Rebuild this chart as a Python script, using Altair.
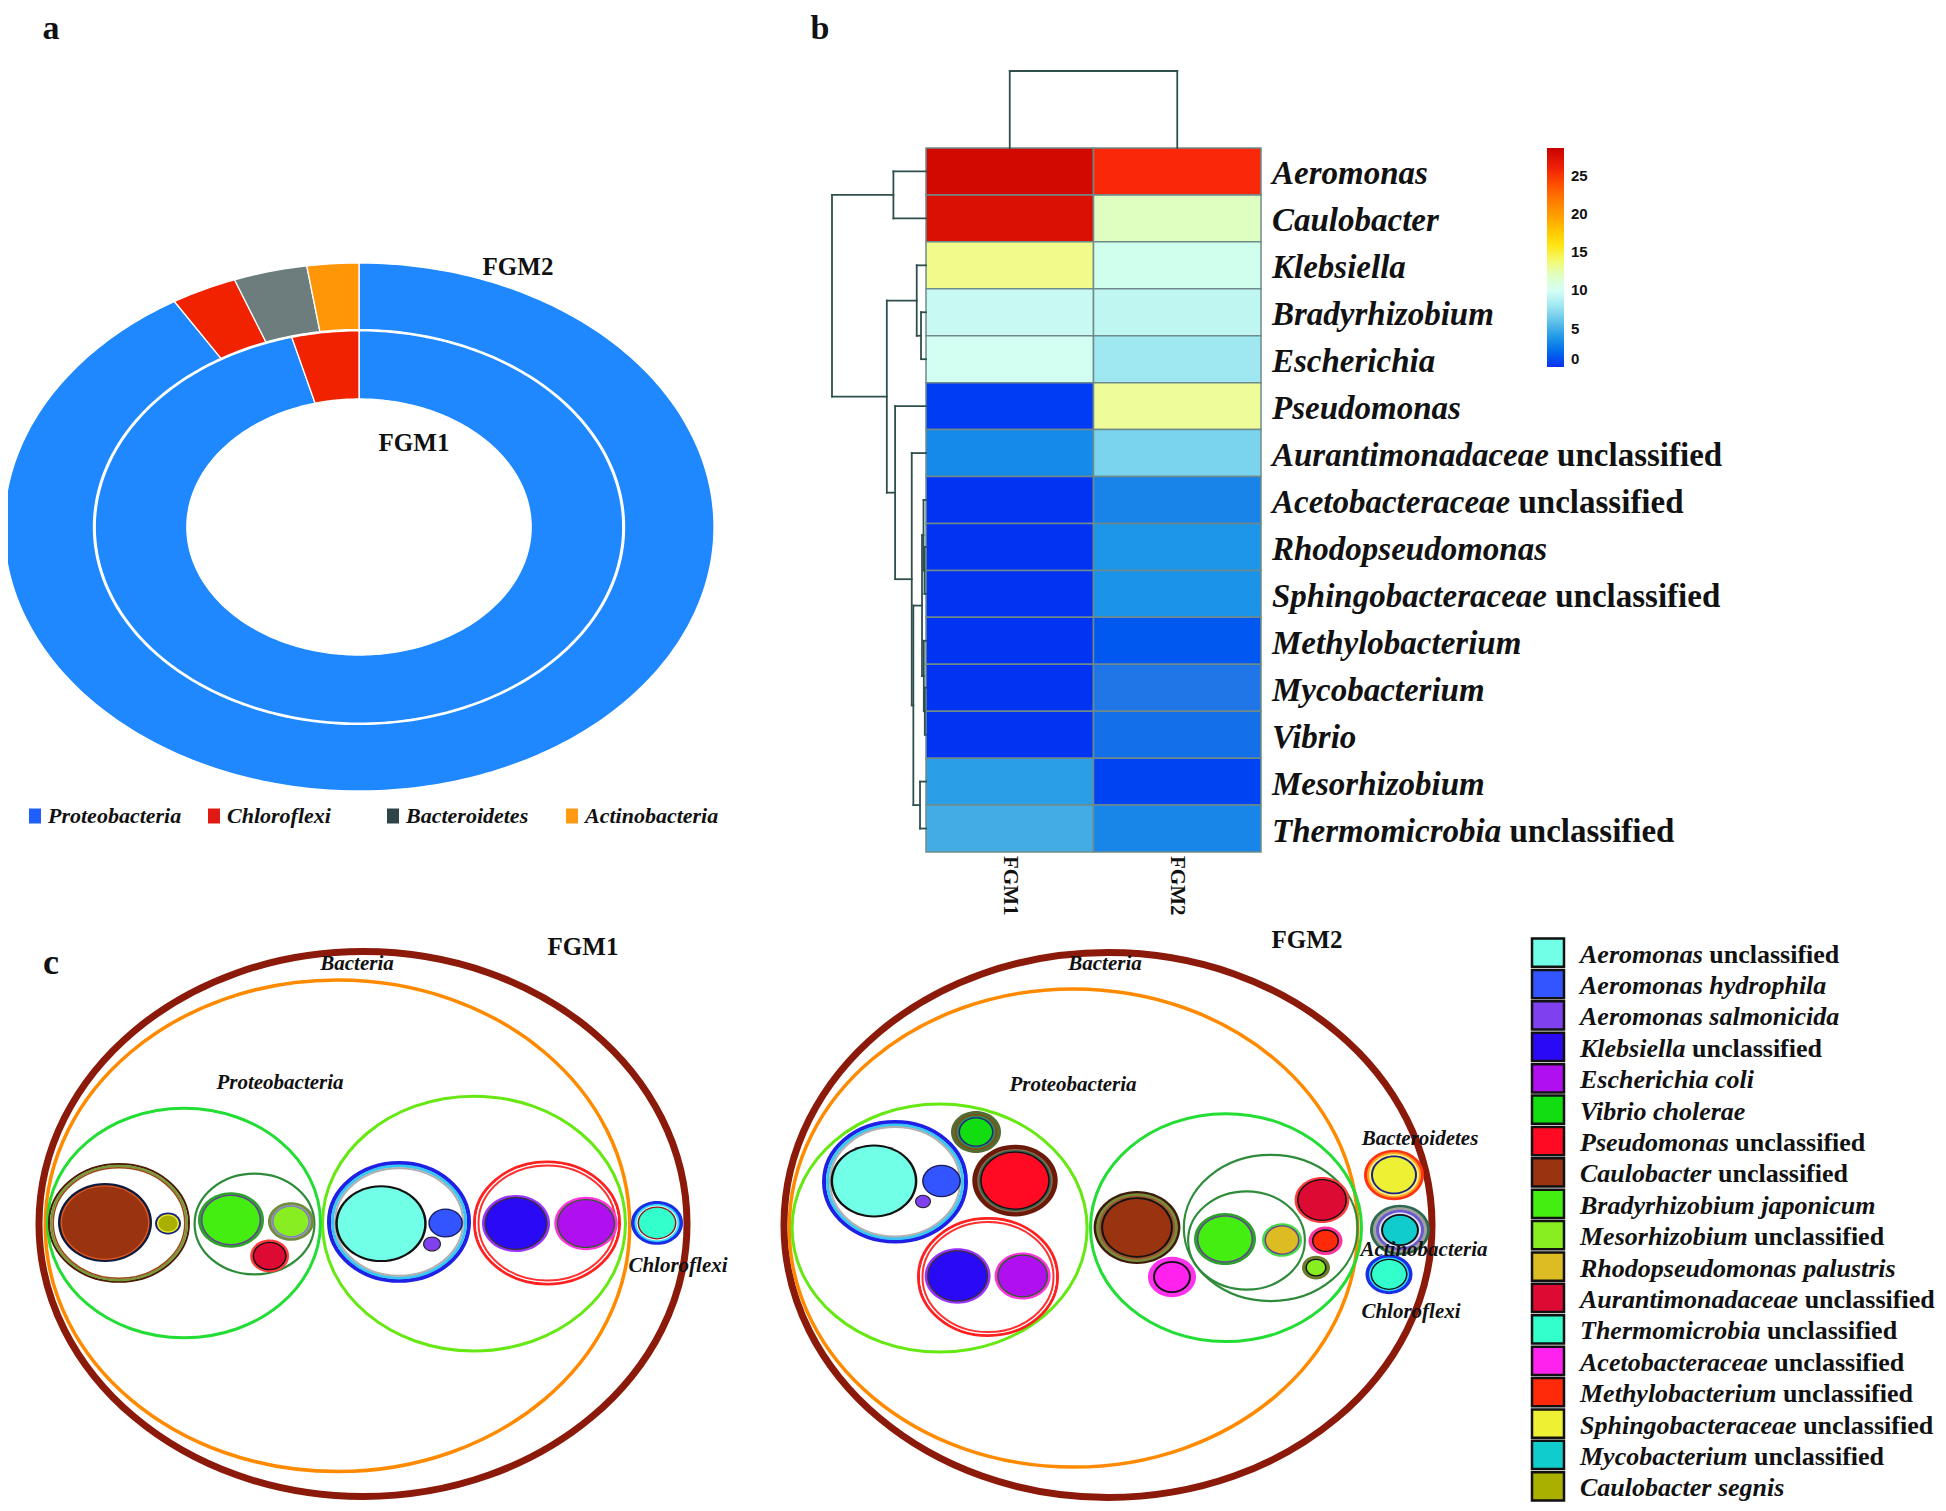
import math
import altair as alt
import pandas as pd

M = 8
SERIF = "Liberation Serif"
SANS = "Liberation Sans"
INK = "#111111"

# ====================== panel a : phylum shares (%) ======================
phyla = ["Proteobacteria", "Chloroflexi", "Bacteroidetes", "Actinobacteria"]
phylum_colors = ["#1F88FF", "#F02200", "#6D7D7D", "#FF9608"]
phylum_key_colors = ["#1F5EFF", "#E01A12", "#2F4444", "#FF9A14"]
fgm1_share = [95.9, 4.1, 0.0, 0.0]
fgm2_share = [91.3, 3.0, 3.35, 2.35]

# ====================== panel b : genus heatmap ======================
genera = ["Aeromonas", "Caulobacter", "Klebsiella", "Bradyrhizobium", "Escherichia",
          "Pseudomonas", "Aurantimonadaceae", "Acetobacteraceae", "Rhodopseudomonas",
          "Sphingobacteraceae", "Methylobacterium", "Mycobacterium", "Vibrio",
          "Mesorhizobium", "Thermomicrobia"]
genus_suffix = ["", "", "", "", "", "", "unclassified", "unclassified", "",
                "unclassified", "", "", "", "", "unclassified"]
samples = ["FGM1", "FGM2"]
fgm1_abund = [28.0, 27.5, 13.3, 9.5, 10.3, 0.3, 3.3, 0.1, 0.1, 0.1, 0.1, 0.1, 0.1, 4.2, 4.9]
fgm2_abund = [25.3, 12.0, 10.5, 9.2, 8.0, 13.0, 6.8, 3.0, 3.8, 3.7, 1.2, 2.4, 2.2, 0.5, 3.1]
# row clustering: (child a, child b, merge height); new clusters numbered from 15
row_merges = [(3, 4, 5.0), (2, 15, 9.3), (0, 1, 32.7), (8, 9, 1.5), (7, 18, 2.5),
              (11, 12, 1.2), (10, 20, 2.2), (19, 21, 4.0), (13, 14, 6.0), (22, 23, 12.7),
              (6, 24, 14.3), (5, 25, 31.0), (16, 26, 39.3), (17, 27, 94.3)]
col_merges = [(0, 1, 1.0)]
scale_stops = [0, 2.5, 5, 7.5, 10, 12.5, 15, 17.5, 20, 25, 28.6]
scale_colors = ["#0A30F2", "#2577E6", "#48AEE4", "#92E2F2", "#D6FFF6", "#EEFCB0",
                "#FFF520", "#FFCB00", "#FF9A00", "#FF2A0A", "#C80000"]
cbar_ticks = [0, 5, 10, 15, 20, 25]

# ====================== panel c : circle packing ======================
legend_taxa = ["Aeromonas unclassified", "Aeromonas hydrophila", "Aeromonas salmonicida",
               "Klebsiella unclassified", "Escherichia coli", "Vibrio cholerae",
               "Pseudomonas unclassified", "Caulobacter unclassified", "Bradyrhizobium japonicum",
               "Mesorhizobium unclassified", "Rhodopseudomonas palustris",
               "Aurantimonadaceae unclassified", "Thermomicrobia unclassified",
               "Acetobacteraceae unclassified", "Methylobacterium unclassified",
               "Sphingobacteraceae unclassified", "Mycobacterium unclassified", "Caulobacter segnis"]
legend_italic = ["Aeromonas", "Aeromonas hydrophila", "Aeromonas salmonicida", "Klebsiella",
                 "Escherichia coli", "Vibrio cholerae", "Pseudomonas", "Caulobacter",
                 "Bradyrhizobium japonicum", "Mesorhizobium", "Rhodopseudomonas palustris",
                 "Aurantimonadaceae", "Thermomicrobia", "Acetobacteraceae", "Methylobacterium",
                 "Sphingobacteraceae", "Mycobacterium", "Caulobacter segnis"]
legend_plain = ["unclassified", "", "", "unclassified", "", "", "unclassified", "unclassified",
                "", "unclassified", "", "unclassified", "unclassified", "unclassified",
                "unclassified", "unclassified", "unclassified", ""]
taxon_colors = ["#72FFE8", "#3355FF", "#7F40F0", "#2A0AF5", "#B010F0", "#11DD11",
                "#FF0A22", "#993310", "#44EE11", "#88EE22", "#DDBB22", "#DD0A33",
                "#33FFCC", "#FF22EE", "#FF2A0A", "#EEF033", "#11CCCC", "#AAB000"]

# nodes: (taxon, style, dx, dy, radius) in reference px units about the Bacteria centre
fgm1_nodes = [
    ("Bacteria", "root", 0, 0, 327.5),
    ("Proteobacteria", "phylum", -25.5, -2.1, 294),
    ("Alphaproteobacteria", "class_a", -179, 1.2, 138),
    ("Gammaproteobacteria", "class_b", 111, 0.5, 153),
    ("Caulobacter", "caulo_grp", -244, 1.2, 71),
    ("Rhizobiales", "order", -108.5, 0, 61),
    ("Aeromonas", "aero_grp", 36, 2.4, 72),
    ("Enterobacteriaceae", "entero_grp", 184, 1.2, 74),
    ("Caulobacter unclassified", "caulo_leaf1", -258, 1.7, 47),
    ("Caulobacter segnis", "segnis", -195, 0.6, 13),
    ("Bradyrhizobium japonicum", "brady", -132, 4.8, 33),
    ("Mesorhizobium unclassified", "meso1", -72, 3, 23),
    ("Aurantimonadaceae unclassified", "auran", -93.4, -38, 19.5),
    ("Aeromonas unclassified", "aero_u", 18, 0.4, 45.7),
    ("Aeromonas hydrophila", "hydro", 82.6, 1.2, 17.3),
    ("Aeromonas salmonicida", "salmo", 69, -23.8, 9),
    ("Klebsiella unclassified", "kleb", 153, 0.6, 34),
    ("Escherichia coli", "ecoli", 223, 0.6, 31.7),
    ("Thermomicrobia unclassified", "thermo1", 294, 1.2, 26),
]
fgm2_nodes = [
    ("Bacteria", "root", 0, 0, 327.5),
    ("Proteobacteria", "phylum", -34.5, -3.6, 286),
    ("Gammaproteobacteria", "class_b", -168.4, -3.6, 149),
    ("Alphaproteobacteria", "class_a", 118, -3.1, 137),
    ("Aeromonas", "aero_grp", -213, 51.4, 73),
    ("Enterobacteriaceae", "entero_grp", -120, -61.8, 71),
    ("Rhizobiales", "order", 162.7, -3.6, 88),
    ("Bradyrhizobiaceae", "order", 138.5, -18.4, 59.5),
    ("Aeromonas unclassified", "aero_u", -234, 52.3, 43.4),
    ("Aeromonas hydrophila", "hydro", -166.5, 52.3, 19.4),
    ("Aeromonas salmonicida", "salmo", -185, 28, 8),
    ("Vibrio cholerae", "vibrio", -132, 110.6, 25),
    ("Pseudomonas unclassified", "pseudo", -93, 52.8, 42.7),
    ("Klebsiella unclassified", "kleb", -150.4, -60.6, 33),
    ("Escherichia coli", "ecoli", -85.4, -60.6, 28),
    ("Caulobacter unclassified", "caulo_leaf2", 29, -3, 43.4),
    ("Acetobacteraceae unclassified", "aceto", 64, -61.8, 24),
    ("Bradyrhizobium japonicum", "brady", 117, -16.6, 31),
    ("Rhodopseudomonas palustris", "rhodo", 174, -17.8, 20),
    ("Aurantimonadaceae unclassified", "auran", 214, 29.7, 27.4),
    ("Methylobacterium unclassified", "methylo", 217.5, -18.7, 17),
    ("Mesorhizobium unclassified", "meso2", 208, -50.7, 14),
    ("Sphingobacteraceae unclassified", "sphingo", 286, 59.5, 30),
    ("Mycobacterium unclassified", "myco", 292, -6, 30),
    ("Thermomicrobia unclassified", "thermo2", 281, -58.7, 23.5),
]
fgm1_labels = [("Bacteria", -6, 309), ("Proteobacteria", -83, 167.7), ("Chloroflexi", 315, -50)]
fgm2_labels = [("Bacteria", -3, 310), ("Proteobacteria", -35, 166.5), ("Bacteroidetes", 312, 102),
               ("Actinobacteria", 316, -29.7), ("Chloroflexi", 303, -103.4)]
pack_titles = {"FGM1": (220, 329.4), "FGM2": (199, 338.9)}

# ====================== styles ======================
group_rings = {
    "root": [("#8B1A0A", 7)],
    "phylum": [("#FF8A00", 3.5)],
    "class_a": [("#22DD33", 3)],
    "class_b": [("#66E812", 3)],
    "order": [("#2E8B3A", 2.2)],
    "caulo_grp": [("#4A1A05", 2), ("#7A9A3A", 2.5), ("#9A4A1A", 1.5)],
    "aero_grp": [("#1F1FE6", 4), ("#38C8F8", 3), ("#B0B0B0", 2)],
    "entero_grp": [("#FF2020", 3), ("#FFFFFF", 1.5), ("#FF3030", 2)],
}
leaf_rings = {
    "caulo_leaf1": [("#0D1B3D", 2.5), ("#E2561E", 1.5)],
    "caulo_leaf2": [("#3A1A0A", 2.5), ("#7A8A3A", 3), ("#A0522D", 2), ("#111111", 2)],
    "segnis": [("#1A237E", 2), ("#F0F020", 1.5)],
    "brady": [("#2DA02D", 3), ("#6A3D9A", 1.5)],
    "meso1": [("#6F8F3F", 3), ("#9A9A9A", 1.5), ("#7B68EE", 1)],
    "meso2": [("#6B7B2F", 3.5), ("#111111", 1.5)],
    "auran": [("#FF3B3B", 2.5), ("#111111", 1.5)],
    "aero_u": [("#111111", 2.5)],
    "hydro": [("#1B1B5A", 1.5)],
    "salmo": [("#222222", 1.2)],
    "kleb": [("#9933FF", 2.5), ("#333333", 1.5)],
    "ecoli": [("#FF33DD", 2.5), ("#2E5E2E", 1.5)],
    "thermo1": [("#1A2EE8", 3.5), ("#33DDFF", 2), ("#FFFFFF", 1), ("#8B1A1A", 1.5)],
    "thermo2": [("#1A2EE8", 3.5), ("#33DDFF", 1.5), ("#111111", 1.5)],
    "vibrio": [("#556B2F", 4), ("#8B4513", 1.5), ("#2E8B57", 2), ("#1A237E", 1.5)],
    "pseudo": [("#6B1A0A", 5), ("#8B6B4B", 1.5), ("#2F5F4F", 1.5), ("#111111", 1.5)],
    "aceto": [("#FF33EE", 5), ("#111111", 2)],
    "rhodo": [("#44DD44", 2.5), ("#6A3D9A", 1.5)],
    "methylo": [("#FF3399", 3.5), ("#111111", 1.5)],
    "sphingo": [("#FF3311", 3), ("#FFA020", 2), ("#FFF080", 2), ("#1A237E", 2)],
    "myco": [("#2E6B4E", 3), ("#A0A0A0", 3), ("#6A5ACD", 3), ("#E0E0FF", 2), ("#111111", 2)],
}

# ====================== layout (reference pixels) ======================
DON = dict(cx=359, cy=527, rx=355, ry=264)
RING = {"FGM1": (0.485, 0.743), "FGM2": (0.748, 1.0)}
HM = dict(l=926, r=1261, t=148, b=852)
DEND_LEFT_X = 832
DEND_TOP_Y = 71
LBL_X = 1272
PACK = {"FGM1": (363, 1224), "FGM2": (1108, 1225)}
PR, PK = 328.0, 0.841
LEGC = dict(x=1532, t=937, b=1502)

BI_W = {'A': 667, 'B': 667, 'C': 667, 'D': 722, 'E': 667, 'F': 667, 'G': 722, 'H': 778,
        'I': 389, 'J': 500, 'K': 667, 'L': 611, 'M': 889, 'N': 722, 'O': 722, 'P': 611,
        'Q': 722, 'R': 667, 'S': 556, 'T': 611, 'U': 722, 'V': 667, 'W': 889, 'X': 667,
        'Y': 611, 'Z': 611, 'a': 500, 'b': 500, 'c': 444, 'd': 500, 'e': 444, 'f': 333,
        'g': 500, 'h': 556, 'i': 278, 'j': 278, 'k': 500, 'l': 278, 'm': 778, 'n': 556,
        'o': 500, 'p': 500, 'q': 500, 'r': 389, 's': 389, 't': 278, 'u': 556, 'v': 444,
        'w': 667, 'x': 500, 'y': 444, 'z': 389, ' ': 250}


def text_w(s, size):
    return sum(BI_W.get(c, 500) for c in s) * size / 1000.0


def note(text, px, py, size, italic=False, align="center", baseline="middle"):
    return alt.Chart(pd.DataFrame({"t": [text]})).mark_text(
        align=align, baseline=baseline, font=SERIF, fontSize=size,
        fontStyle="italic" if italic else "normal", fontWeight="bold", color=INK
    ).encode(x=alt.value(px - M), y=alt.value(py - M), text="t:N")


layers = []

# ---------------- panel a ----------------
rows = []
for sample, shares in (("FGM1", fgm1_share), ("FGM2", fgm2_share)):
    r_in, r_out = RING[sample]
    total = float(sum(shares))
    acc = 0.0
    for ph, s in zip(phyla, shares):
        if s <= 0:
            continue
        a0 = acc / total * 360.0
        acc += s
        a1 = acc / total * 360.0
        n = max(3, int(math.ceil(a1 - a0)) + 1)
        angs = [a0 + (a1 - a0) * k / (n - 1) for k in range(n)]
        pts = [(r_out, a) for a in angs] + [(r_in, a) for a in reversed(angs)]
        for i, (r, a) in enumerate(pts):
            t = math.radians(a)
            rows.append({"slice": sample + ":" + ph, "phylum": ph, "i": i,
                         "u": r * math.sin(t), "v": r * math.cos(t)})
donut_df = pd.DataFrame(rows)
donut = alt.Chart(donut_df).mark_line(
    interpolate="linear-closed", stroke="white", strokeWidth=1.3, strokeJoin="round"
).encode(
    x=alt.X("u:Q", scale=alt.Scale(domain=[-1, 1], range=[DON["cx"] - DON["rx"] - M, DON["cx"] + DON["rx"] - M], nice=False, zero=False), axis=None),
    y=alt.Y("v:Q", scale=alt.Scale(domain=[-1, 1], range=[DON["cy"] + DON["ry"] - M, DON["cy"] - DON["ry"] - M], nice=False, zero=False), axis=None),
    fill=alt.Fill("phylum:N", scale=alt.Scale(domain=phyla, range=phylum_colors), legend=None),
    detail="slice:N",
    order=alt.Order("i:Q"),
)
layers.append(donut)
layers.append(note("FGM2", 518, 267, 25))
layers.append(note("FGM1", 414, 443, 25))

RECT_PATH = "M-0.8,-1H0.8V1H-0.8Z"
key_df = pd.DataFrame({"phylum": phyla})
key_x = alt.Scale(type="point", domain=phyla, range=[35 - M, 572 - M], padding=0)
layers.append(alt.Chart(key_df).mark_point(shape=RECT_PATH, filled=True, opacity=1, size=225).encode(
    x=alt.X("phylum:N", scale=key_x, axis=None), y=alt.value(816 - M),
    fill=alt.Fill("phylum:N", scale=alt.Scale(domain=phyla, range=phylum_key_colors), legend=None)))
layers.append(alt.Chart(key_df).mark_text(
    align="left", baseline="middle", dx=13, font=SERIF, fontStyle="italic", fontWeight="bold",
    fontSize=22, color=INK).encode(
    x=alt.X("phylum:N", scale=key_x, axis=None), y=alt.value(816 - M), text="phylum:N"))

# ---------------- panel b ----------------
hm_df = pd.DataFrame({"genus": genera * 2,
                      "sample": ["FGM1"] * len(genera) + ["FGM2"] * len(genera),
                      "value": fgm1_abund + fgm2_abund})
hx = alt.Scale(domain=samples, range=[HM["l"] - M, HM["r"] - M], paddingInner=0, paddingOuter=0)
hy = alt.Scale(domain=genera, range=[HM["t"] - M, HM["b"] - M], paddingInner=0, paddingOuter=0)
heat = alt.Chart(hm_df).mark_rect(stroke="#6F8A8A", strokeWidth=1.5).encode(
    x=alt.X("sample:N", scale=hx, axis=None),
    y=alt.Y("genus:N", scale=hy, axis=None),
    color=alt.Color("value:Q", scale=alt.Scale(domain=scale_stops, range=scale_colors, clamp=True),
                    legend=alt.Legend(orient="none", legendX=1547 - M, legendY=148 - M,
                                      direction="vertical", gradientLength=219, gradientThickness=17,
                                      title=None, values=cbar_ticks, labelFont=SANS,
                                      labelFontWeight="bold", labelFontSize=15, labelColor=INK,
                                      labelOffset=7, labelBaseline="middle", labelOverlap=False,
                                      gradientStrokeWidth=0)),
)
layers.append(heat)

LSZ = 33
lab_df = pd.DataFrame({"genus": genera, "suffix": genus_suffix})
lab_df["x0"] = 0.0
lab_df["x1"] = [text_w(g, LSZ) + text_w(" ", LSZ) for g in genera]
lx = alt.Scale(domain=[0, 600], range=[LBL_X - M, LBL_X + 600 - M], nice=False, zero=False)
layers.append(alt.Chart(lab_df).mark_text(
    align="left", baseline="middle", dy=3, font=SERIF, fontStyle="italic", fontWeight="bold",
    fontSize=LSZ, color=INK).encode(
    x=alt.X("x0:Q", scale=lx, axis=None),
    y=alt.Y("genus:N", scale=hy, axis=None, bandPosition=0.5), text="genus:N"))
layers.append(alt.Chart(lab_df).mark_text(
    align="left", baseline="middle", dy=3, font=SERIF, fontStyle="normal", fontWeight="bold",
    fontSize=LSZ, color=INK).encode(
    x=alt.X("x1:Q", scale=lx, axis=None),
    y=alt.Y("genus:N", scale=hy, axis=None, bandPosition=0.5), text="suffix:N"))

col_df = pd.DataFrame({"sample": samples})
layers.append(alt.Chart(col_df).mark_text(
    align="left", baseline="middle", angle=90, font=SERIF, fontWeight="bold", fontSize=21,
    color=INK).encode(
    x=alt.X("sample:N", scale=hx, axis=None, bandPosition=0.5), y=alt.value(856 - M),
    text="sample:N"))


def dendro(n, merges):
    pos = {i: float(i) for i in range(n)}
    hgt = {i: 0.0 for i in range(n)}
    segs = []
    for k, (a, b, h) in enumerate(merges):
        segs.append({"h0": hgt[a], "h1": h, "p0": pos[a], "p1": pos[a]})
        segs.append({"h0": hgt[b], "h1": h, "p0": pos[b], "p1": pos[b]})
        segs.append({"h0": h, "h1": h, "p0": pos[a], "p1": pos[b]})
        pos[n + k] = (pos[a] + pos[b]) / 2.0
        hgt[n + k] = h
    return pd.DataFrame(segs)


row_seg = dendro(len(genera), row_merges)
root_h = max(m[2] for m in row_merges)
layers.append(alt.Chart(row_seg).mark_rule(color="#2F4F4F", strokeWidth=1.8, strokeCap="square").encode(
    x=alt.X("h0:Q", scale=alt.Scale(domain=[0, root_h], range=[HM["l"] - M, DEND_LEFT_X - M], nice=False, zero=False), axis=None),
    x2="h1:Q",
    y=alt.Y("p0:Q", scale=alt.Scale(domain=[-0.5, len(genera) - 0.5], range=[HM["t"] - M, HM["b"] - M], nice=False, zero=False), axis=None),
    y2="p1:Q"))
col_seg = dendro(len(samples), col_merges)
layers.append(alt.Chart(col_seg).mark_rule(color="#2F4F4F", strokeWidth=1.8, strokeCap="square").encode(
    x=alt.X("p0:Q", scale=alt.Scale(domain=[-0.5, len(samples) - 0.5], range=[HM["l"] - M, HM["r"] - M], nice=False, zero=False), axis=None),
    x2="p1:Q",
    y=alt.Y("h0:Q", scale=alt.Scale(domain=[0, 1.0], range=[HM["t"] - M, DEND_TOP_Y - M], nice=False, zero=False), axis=None),
    y2="h1:Q"))

# ---------------- panel c ----------------
k1 = round(PK * 0.5523, 4)
ELLIPSE = ("M-1,0C-1,-{a},-0.5523,-{k},0,-{k}C0.5523,-{k},1,-{a},1,0"
           "C1,{a},0.5523,{k},0,{k}C-0.5523,{k},-1,{a},-1,0Z").format(a=k1, k=PK)
color_of = dict(zip(legend_taxa, taxon_colors))


def circle_rows(nodes):
    out = []
    z = 0
    for name, style, dx, dy, r in sorted(nodes, key=lambda nd: -nd[4]):
        off = 0.0
        if style in group_rings:
            for col, w in group_rings[style]:
                out.append(dict(dx=dx, dy=dy, rad=r - off - w / 2.0, fill="transparent",
                                stroke=col, sw=w, z=z))
                z += 1
                off += w
        else:
            for col, w in leaf_rings[style]:
                out.append(dict(dx=dx, dy=dy, rad=r - off, fill=col, stroke="transparent", sw=0, z=z))
                z += 1
                off += w
            out.append(dict(dx=dx, dy=dy, rad=r - off, fill=color_of[name], stroke="transparent", sw=0, z=z))
            z += 1
    return pd.DataFrame(out)


for sample, nodes, labels in (("FGM1", fgm1_nodes, fgm1_labels), ("FGM2", fgm2_nodes, fgm2_labels)):
    cx, cy = PACK[sample]
    sx = alt.Scale(domain=[-PR, PR], range=[cx - PR - M, cx + PR - M], nice=False, zero=False)
    sy = alt.Scale(domain=[-PR, PR], range=[cy + PR * PK - M, cy - PR * PK - M], nice=False, zero=False)
    layers.append(alt.Chart(circle_rows(nodes)).mark_point(shape=ELLIPSE, opacity=1).encode(
        x=alt.X("dx:Q", scale=sx, axis=None),
        y=alt.Y("dy:Q", scale=sy, axis=None),
        size=alt.Size("rad:Q", scale=alt.Scale(type="pow", exponent=2, domain=[0, PR], range=[0, 4 * PR * PR]), legend=None),
        fill=alt.Fill("fill:N", scale=None),
        stroke=alt.Stroke("stroke:N", scale=None),
        strokeWidth=alt.StrokeWidth("sw:Q", scale=None),
        order=alt.Order("z:Q"),
    ))
    lab = pd.DataFrame(labels, columns=["text", "dx", "dy"])
    layers.append(alt.Chart(lab).mark_text(
        align="center", baseline="middle", font=SERIF, fontStyle="italic", fontWeight="bold",
        fontSize=21, color=INK).encode(
        x=alt.X("dx:Q", scale=sx, axis=None), y=alt.Y("dy:Q", scale=sy, axis=None), text="text:N"))
    tdx, tdy = pack_titles[sample]
    ttl = pd.DataFrame({"text": [sample], "dx": [tdx], "dy": [tdy]})
    layers.append(alt.Chart(ttl).mark_text(
        align="center", baseline="middle", font=SERIF, fontWeight="bold", fontSize=25, color=INK).encode(
        x=alt.X("dx:Q", scale=sx, axis=None), y=alt.Y("dy:Q", scale=sy, axis=None), text="text:N"))

# legend of panel c
CSZ = 26
leg_df = pd.DataFrame({"taxon": legend_taxa, "it": legend_italic, "pl": legend_plain})
leg_df["tx"] = 48.0
leg_df["tx2"] = [48.0 + text_w(s, CSZ) + text_w(" ", CSZ) for s in legend_italic]
lcx = alt.Scale(domain=[0, 420], range=[LEGC["x"] - M, LEGC["x"] + 420 - M], nice=False, zero=False)
lcy = alt.Scale(domain=legend_taxa, range=[LEGC["t"] - M, LEGC["b"] - M], paddingInner=0.1, paddingOuter=0.05)
layers.append(alt.Chart(leg_df).transform_calculate(sx0="0", sx1="32").mark_rect(
    stroke="#111111", strokeWidth=2.5).encode(
    x=alt.X("sx0:Q", scale=lcx, axis=None), x2="sx1:Q",
    y=alt.Y("taxon:N", scale=lcy, axis=None),
    fill=alt.Fill("taxon:N", scale=alt.Scale(domain=legend_taxa, range=taxon_colors), legend=None)))
layers.append(alt.Chart(leg_df).mark_text(
    align="left", baseline="middle", dy=2, font=SERIF, fontStyle="italic", fontWeight="bold",
    fontSize=CSZ, color=INK).encode(
    x=alt.X("tx:Q", scale=lcx, axis=None), y=alt.Y("taxon:N", scale=lcy, axis=None, bandPosition=0.5),
    text="it:N"))
layers.append(alt.Chart(leg_df).mark_text(
    align="left", baseline="middle", dy=2, font=SERIF, fontStyle="normal", fontWeight="bold",
    fontSize=CSZ, color=INK).encode(
    x=alt.X("tx2:Q", scale=lcx, axis=None), y=alt.Y("taxon:N", scale=lcy, axis=None, bandPosition=0.5),
    text="pl:N"))

# panel letters
layers.append(note("a", 51, 38.5, 34, baseline="alphabetic"))
layers.append(note("b", 820, 38.5, 34, baseline="alphabetic"))
layers.append(note("c", 51, 974, 36, baseline="alphabetic"))

chart = alt.layer(*layers).resolve_scale(
    x="independent", y="independent", color="independent", fill="independent", size="independent"
).properties(
    width=1930, height=1495, padding=0, autosize=alt.AutoSizeParams(type="none")
).configure(background="white", view=alt.ViewConfig(stroke=None))

chart.save("out.html", embed_options={"renderer": "svg", "actions": False})
